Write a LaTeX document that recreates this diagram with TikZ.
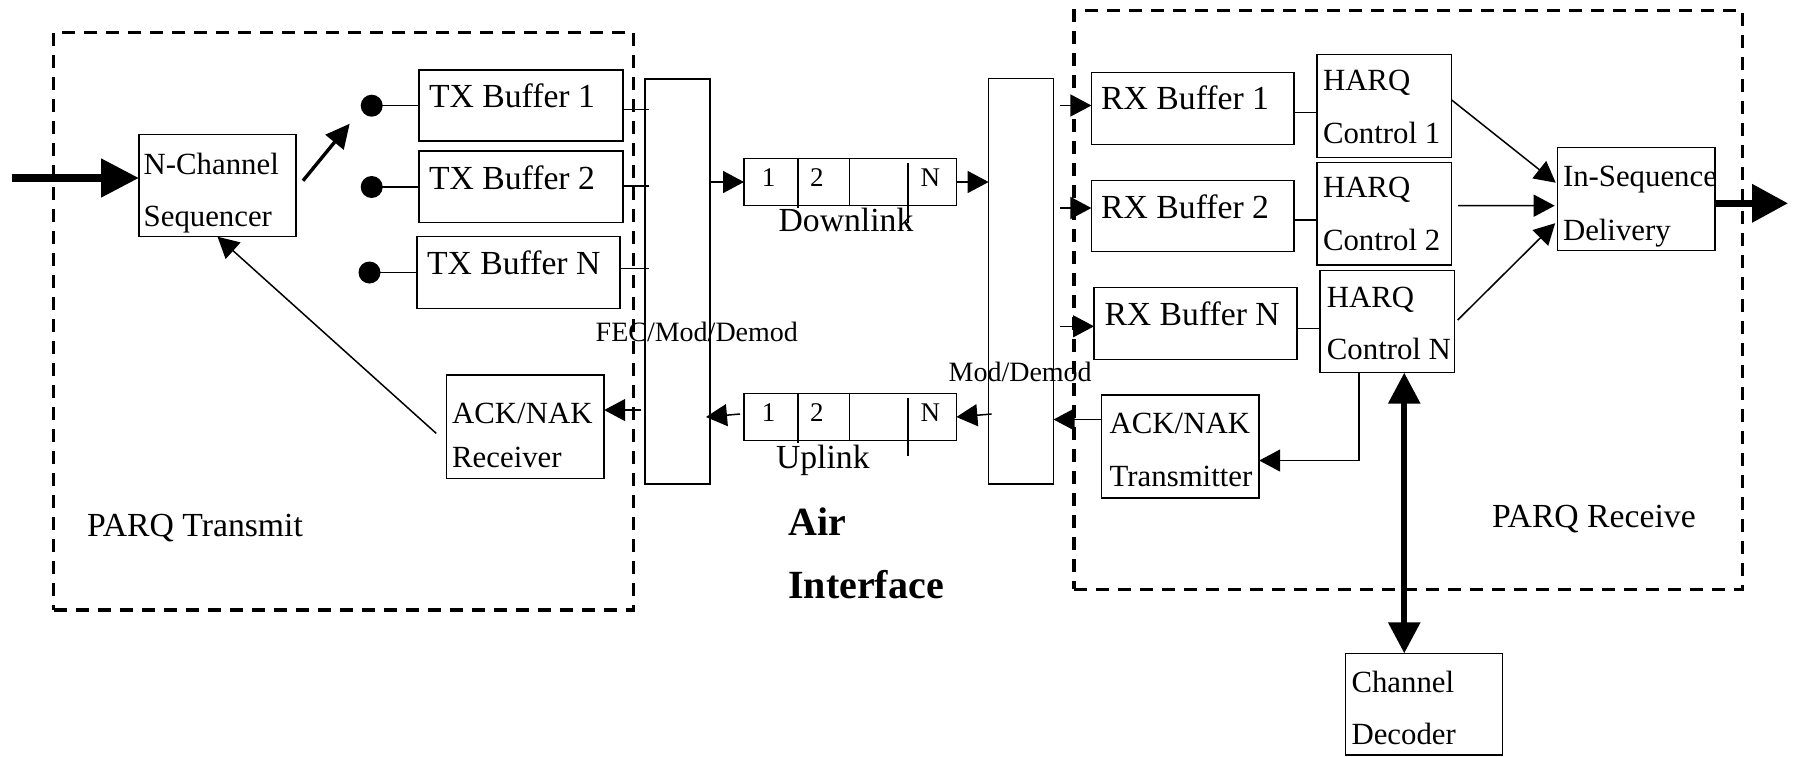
\documentclass[tikz,border=0pt]{standalone}
\usepackage{fontspec}
\setmainfont{Liberation Serif}
\usetikzlibrary{arrows.meta,calc}
\newcommand\fbig{\fontsize{16.85}{20}\selectfont}
\newcommand\fmid{\fontsize{15.4}{18}\selectfont}
\newcommand\fsml{\fontsize{14}{17}\selectfont}
\newcommand\fdig{\fontsize{13.5}{16}\selectfont}
\newcommand\fair{\fontsize{20}{24}\selectfont\bfseries}
\newcommand\mkbox[6][bx]{\node[#1, minimum width={(#5-#3)*0.5pt}, minimum height={(#6-#4)*0.5pt}] (#2) at ({(#3+#5)/2},{(#4+#6)/2}) {};}
\begin{document}
\begin{tikzpicture}[x=0.5pt,y=-0.5pt,
  bx/.style={draw, line width=0.75pt, inner sep=0, outer sep=0},
  dsh/.style={draw, line width=1.75pt, dash pattern=on 6.5pt off 4.5pt, inner sep=0, outer sep=0},
  lbl/.style={inner sep=0, outer sep=0, anchor=base west},
  ln/.style={line width=0.75pt},
  arr/.style={line width=0.75pt, -{Triangle[length=10.5pt,width=11pt]}},
  inarr/.style={line width=4pt, -{Triangle[length=19pt,width=18.5pt]}},
  outarr/.style={line width=3.5pt, -{Triangle[length=18pt,width=18.5pt]}},
  dblarr/.style={line width=3pt, {Triangle[length=15.5pt,width=15.5pt]}-{Triangle[length=15.5pt,width=15.5pt]}},
  swarr/.style={line width=1.7pt, -{Triangle[length=12pt,width=11.5pt]}},
  dotn/.style={circle, fill, inner sep=0, minimum size=11pt}]
\useasboundingbox (0,0) rectangle (1794,756);

% regions
\mkbox[dsh]{txreg}{53.7}{32.3}{633.6}{610}
\mkbox[dsh]{rxreg}{1074}{10.7}{1742.6}{589.3}

% boxes
\mkbox{seq}{139}{134.7}{296}{236.7}
\mkbox{tx1}{419.2}{70}{623}{141}
\mkbox{tx2}{419.2}{151}{623}{222.7}
\mkbox{txn}{417}{236.7}{620}{308.3}
\mkbox{ackr}{446.7}{375}{604.2}{478.3}
\mkbox{fec}{645}{79}{710}{484}
\mkbox{mod}{988.6}{78.3}{1053.6}{484}
\mkbox{dl}{744}{158.3}{956.4}{205.7}
\mkbox{ul}{744}{393.3}{956.4}{440.7}
\mkbox{rx1}{1091.4}{72.7}{1294}{144.3}
\mkbox{rx2}{1091.4}{180.3}{1294}{251.7}
\mkbox{rxn}{1094}{287.3}{1297}{359.3}
\mkbox{h1}{1317}{54.3}{1451.4}{157.3}
\mkbox{h2}{1317}{162.3}{1451.4}{265}
\mkbox{hn}{1319.8}{270.7}{1454.7}{372.7}
\mkbox{isd}{1557.7}{147.7}{1715}{250.7}
\mkbox{ackt}{1101.5}{395}{1259.2}{498}
\mkbox{dec}{1345.3}{653.3}{1502.5}{755}

% switch dots
\node[dotn] (d1) at (371.7,105.7) {};
\node[dotn] (d2) at (371.7,187) {};
\node[dotn] (d3) at (369.5,272.5) {};

% texts
\node[lbl,font=\fmid] (seqa) at (143.7,174) {N-Channel};
\node[lbl,font=\fmid] (seqb) at (143.7,226.7) {Sequencer};
\node[lbl,font=\fbig] (tx1t) at (429,107.3) {TX Buffer 1};
\node[lbl,font=\fbig] (tx2t) at (429,189.3) {TX Buffer 2};
\node[lbl,font=\fbig] (txnt) at (427,274) {TX Buffer N};
\node[lbl,font=\fmid] (ackra) at (452.2,423.3) {ACK/NAK};
\node[lbl,font=\fmid] (ackrb) at (452.2,467.3) {Receiver};
\node[lbl,font=\fbig] (ptx) at (87.2,536) {PARQ Transmit};
\node[lbl,font=\fsml] (fect) at (595.7,341) {FEC/Mod/Demod};
\node[lbl,font=\fsml] (modt) at (948.6,381.7) {Mod/Demod};
\node[lbl,font=\fbig] (dlt) at (778.6,231.7) {Downlink};
\node[lbl,font=\fbig] (ult) at (776,468.3) {Uplink};
\node[lbl,font=\fdig] (dl1) at (761.8,186.7) {1};
\node[lbl,font=\fdig] (dl2) at (810,186.7) {2};
\node[lbl,font=\fdig] (dln) at (920.7,186.7) {N};
\node[lbl,font=\fdig] (ul1) at (761.8,421.7) {1};
\node[lbl,font=\fdig] (ul2) at (810,421.7) {2};
\node[lbl,font=\fdig] (uln) at (920.7,421.7) {N};
\node[lbl,font=\fair] (aira) at (788.3,535) {Air};
\node[lbl,font=\fair] (airb) at (788.3,598.3) {Interface};
\node[lbl,font=\fbig] (rx1t) at (1101.2,109) {RX Buffer 1};
\node[lbl,font=\fbig] (rx2t) at (1101.2,218.3) {RX Buffer 2};
\node[lbl,font=\fbig] (rxnt) at (1104.5,325) {RX Buffer N};
\node[lbl,font=\fmid] (h1a) at (1323,90.7) {HARQ};
\node[lbl,font=\fmid] (h1b) at (1323,143.3) {Control 1};
\node[lbl,font=\fmid] (h2a) at (1323,197.3) {HARQ};
\node[lbl,font=\fmid] (h2b) at (1323,250.7) {Control 2};
\node[lbl,font=\fmid] (hna) at (1326.9,307.3) {HARQ};
\node[lbl,font=\fmid] (hnb) at (1326.9,359.3) {Control N};
\node[lbl,font=\fmid] (isda) at (1563,186.7) {In-Sequence};
\node[lbl,font=\fmid] (isdb) at (1563,240) {Delivery};
\node[lbl,font=\fmid] (ackta) at (1109.7,433.3) {ACK/NAK};
\node[lbl,font=\fmid] (acktb) at (1109.7,486) {Transmitter};
\node[lbl,font=\fmid] (deca) at (1351.5,692.3) {Channel};
\node[lbl,font=\fmid] (decb) at (1351.5,744.3) {Decoder};
\node[lbl,font=\fbig] (prx) at (1492,527.7) {PARQ Receive};

% buffer dividers
\draw[ln] ($(dl.north west)+(53.9,0)$) -- ++(0,50);
\draw[ln] ($(dl.north west)+(105.3,0)$) -- ($(dl.south west)+(105.3,0)$);
\draw[ln] ($(dl.north west)+(164.2,5)$) -- ++(0,60);
\draw[ln] ($(ul.north west)+(53.9,0)$) -- ++(0,50);
\draw[ln] ($(ul.north west)+(105.3,0)$) -- ($(ul.south west)+(105.3,0)$);
\draw[ln] ($(ul.north west)+(164.2,5)$) -- ++(0,58);

% input / sequencer
\coordinate (in) at (11.5,178);
\draw[inarr] (in) -- (seq.west |- in);
\draw[swarr] ($(seq.east)+(7,-5)$) -- ($(d1)+(-22,18)$);
\draw[ln] (d1.center) -- (d1.center -| tx1.west);
\draw[ln] (d2.center) -- (d2.center -| tx2.west);
\draw[ln] (d3.center) -- (d3.center -| txn.west);

% TX buffers to FEC
\coordinate (fecR) at ($(fec.west)+(4,0)$);
\coordinate (t1) at ($(tx1.east)+(0,4)$);
\coordinate (t2) at ($(tx2.east)+(0,-1)$);
\coordinate (tn) at ($(txn.east)+(0,-4)$);
\draw[ln] (t1) -- (t1 -| fecR);
\draw[ln] (t2) -- (t2 -| fecR);
\draw[ln] (tn) -- (tn -| fecR);

% downlink path
\draw[arr] (fec.east |- dl.west) -- (dl.west);
\draw[arr] (dl.east) -- (mod.west |- dl.east);
\coordinate (modR) at ($(mod.east)+(6,0)$);
\coordinate (r1) at ($(rx1.west)+(0,-3)$);
\coordinate (r2) at ($(rx2.west)+(0,-8)$);
\coordinate (rn) at ($(rxn.west)+(0,3)$);
\draw[arr] (r1 -| modR) -- (r1);
\draw[arr] (r2 -| modR) -- (r2);
\draw[arr] (rn -| modR) -- (rn);

% RX to HARQ
\coordinate (q1) at ($(rx1.east)+(0,4)$);
\coordinate (q2) at ($(rx2.east)+(0,4)$);
\coordinate (qn) at ($(rxn.east)+(0,5)$);
\draw[ln] (q1) -- (q1 -| h1.west);
\draw[ln] (q2) -- (q2 -| h2.west);
\draw[ln] (qn) -- (qn -| hn.west);

% HARQ to in-sequence delivery
\draw[arr] ($(h1.east)+(0,-6)$) -- ($(isd.west)+(-2,-16.5)$);
\draw[arr] ($(h2.east)+(6.6,-8)$) -- ($(isd.west)+(-3,6.5)$);
\draw[arr] ($(hn.east)+(3,-1.7)$) -- ($(isd.west)+(-2.5,24)$);
\coordinate (out) at (1788,203.3);
\draw[outarr] (isd.east |- out) -- (out);

% HARQ N to ACK/NAK transmitter and channel decoder
\coordinate (hk) at ($(hn.south)+(-28.5,0)$);
\coordinate (ak) at ($(ackt.east)+(0,14)$);
\draw[arr] (hk) |- (ak);
\coordinate (hd) at ($(hn.south)+(17,0)$);
\draw[dblarr] (hd) -- (hd |- dec.north);

% uplink path
\coordinate (ka) at ($(ackt.west)+(0,-27)$);
\draw[arr] (ka) -- (ka -| mod.east);
\coordinate (modL) at ($(mod.west)+(3,0)$);
\coordinate (u1) at ($(ul.east)+(0,-3)$);
\draw[arr] (u1 -| modL) -- (ul.east);
\coordinate (fecRi) at ($(fec.east)+(-4,0)$);
\coordinate (u2) at ($(ul.west)+(-4,-3)$);
\draw[arr] (u2) -- (ul.west -| fecRi);
\coordinate (fecLo) at ($(fec.west)+(-3.6,0)$);
\coordinate (ar) at ($(ackr.east)+(0,-16.6)$);
\draw[arr] (ar -| fecLo) -- (ar);
\draw[arr] ($(ackr.west)+(-10.5,6.7)$) -- (seq.south);
\end{tikzpicture}
\end{document}
